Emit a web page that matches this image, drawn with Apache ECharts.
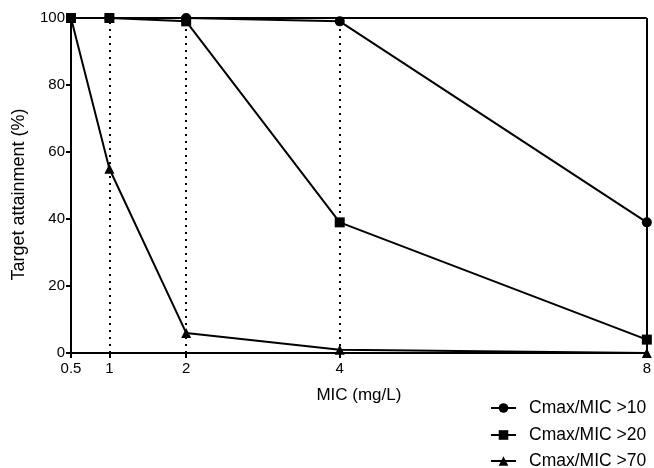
<!DOCTYPE html>
<html><head><meta charset="utf-8">
<script src="https://cdn.jsdelivr.net/npm/echarts@6/dist/echarts.min.js"></script>
<style>html,body{margin:0;padding:0;background:#fff}#c{width:654px;height:468px}</style>
</head><body><div id="c"></div>
<script>
const micValues = [0.5, 1, 2, 4, 8];
const xTickLabels = [0.5, 1, 2, 4, 8];
const guideLines = [1, 2, 4];
const yTicks = [0, 20, 40, 60, 80, 100];
const seriesNames = ['Cmax/MIC >10', 'Cmax/MIC >20', 'Cmax/MIC >70'];
const cmax10 = [100, 100, 100, 99, 39];
const cmax20 = [100, 100, 99, 39, 4];
const cmax70 = [100, 55, 6, 1, 0];

const FONT = 'Liberation Sans, Arial, sans-serif';
const chart = echarts.init(document.getElementById('c'));
function pairs(vals){ return micValues.map((x,i)=>[x, vals[i]]); }
const base = {
  type: 'line', symbolSize: 10,
  lineStyle: {color: '#000', width: 2},
  itemStyle: {color: '#000'},
  animation: false, z: 5
};
const legendTops = [399, 426, 452];
chart.setOption({
  animation: false,
  textStyle: {fontFamily: FONT, color: '#000'},
  grid: {left: 71, right: 5, top: 18, bottom: 115, containLabel: false},
  xAxis: {
    type: 'value', min: 0.5, max: 8,
    name: 'MIC (mg/L)', nameLocation: 'middle', nameGap: 34,
    nameTextStyle: {fontSize: 17, color: '#000', fontFamily: FONT},
    axisLine: {lineStyle: {color: '#000', width: 2}},
    axisTick: {show: true, customValues: xTickLabels, length: 5, inside: false, lineStyle: {color: '#000', width: 2}},
    axisLabel: {customValues: xTickLabels, fontSize: 15, color: '#000', margin: 8, fontFamily: FONT},
    splitLine: {show: false}
  },
  yAxis: {
    type: 'value', min: 0, max: 100, interval: 20,
    name: 'Target attainment (%)', nameLocation: 'middle', nameGap: 43,
    nameTextStyle: {fontSize: 18, color: '#000', fontFamily: FONT, padding: [0, 18, 0, 0]},
    axisLine: {show: true, lineStyle: {color: '#000', width: 2}},
    axisTick: {show: true, length: 5, lineStyle: {color: '#000', width: 2}},
    axisLabel: {fontSize: 15, color: '#000', margin: 6, fontFamily: FONT,
      customValues: yTicks},
    splitLine: {show: false}
  },
  legend: seriesNames.map((n, i) => ({
    orient: 'vertical', left: 490, top: legendTops[i], padding: 0,
    itemWidth: 25, itemHeight: 12,
    textStyle: {fontSize: 17.5, color: '#000', fontFamily: FONT, padding: [0, 0, 0, 8]},
    data: [n]
  })),
  series: [
    Object.assign({}, base, {name: seriesNames[0], symbol: 'circle', data: pairs(cmax10),
      markLine: {silent: true, symbol: 'none', label: {show: false}, animation: false,
        lineStyle: {color: '#000', width: 2, type: [2, 5]},
        data: guideLines.map(v => ({xAxis: v}))}}),
    Object.assign({}, base, {name: seriesNames[1], symbol: 'rect', data: pairs(cmax20),
      markLine: {silent: true, symbol: 'none', label: {show: false}, animation: false,
        lineStyle: {color: '#000', width: 2, type: 'solid'},
        data: [{yAxis: 100}, {xAxis: 8}]}}),
    Object.assign({}, base, {name: seriesNames[2], symbol: 'triangle', data: pairs(cmax70)})
  ]
});
</script></body></html>
